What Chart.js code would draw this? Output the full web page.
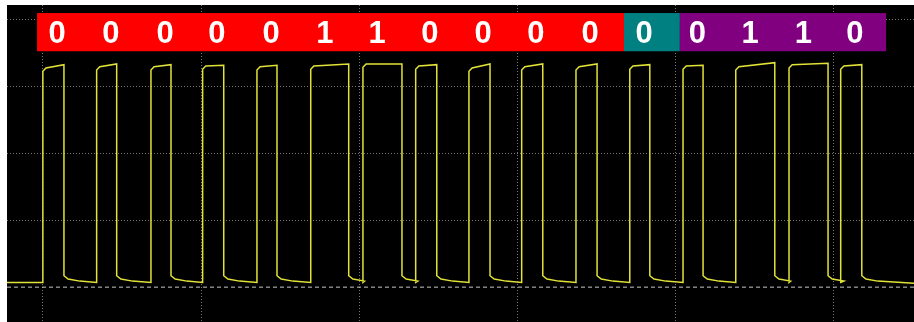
<!DOCTYPE html>
<html>
<head>
<meta charset="utf-8">
<script src="https://cdn.jsdelivr.net/npm/chart.js@4.4.0/dist/chart.umd.min.js"></script>
<style>
  html, body { margin: 0; padding: 0; background: #fff; }
  #wrap { position: absolute; left: 7px; top: 5px; width: 907px; height: 317px; background: #000; }
</style>
</head>
<body>
<div id="wrap"><canvas id="scope"></canvas></div>
<script>
// time in microseconds (30 us / div), voltage 1 V / div
const xTicks = [0, 30, 60, 90, 120, 150];
const yTicks = [0, 1, 2, 3, 4];
const xMin = -6.8, xMax = 165.2;
const yMin = -0.52, yMax = 4.21;

// pulse edges (us)
const riseTimes = [0, 10.2, 20.5, 30.3, 40.6, 50.8, 60.7, 70.7, 80.8, 90.8, 101.1, 111.3, 121.4, 131.4, 141.5, 151.3];
const fallTimes = [4.0, 14.0, 24.3, 34.3, 44.4, 58.0, 68.1, 74.7, 84.8, 94.8, 105.1, 115.1, 125.2, 138.8, 148.9, 155.3];
// high level right after the rise and just before the fall (V)
const topStart = [3.22, 3.24, 3.24, 3.25, 3.24, 3.25, 3.28, 3.25, 3.22, 3.24, 3.24, 3.25, 3.25, 3.24, 3.27, 3.25];
const topEnd = [3.32, 3.33, 3.32, 3.31, 3.31, 3.33, 3.33, 3.32, 3.33, 3.33, 3.33, 3.32, 3.31, 3.35, 3.34, 3.32];
const lowLevel = 0.07;

// decoded bits, one row per coloured field
const fieldBits = [[0, 0, 0, 0, 0, 1, 1, 0, 0, 0, 0], [0], [0, 1, 1, 0]];
const fieldColors = ['#ff0000', '#008080', '#800080'];
const fieldEdges = [-1.1, 110.2, 120.8, 159.9];
const fieldTop = 4.09, fieldBottom = 3.52;

// build the trace
const trace = [{x: xMin, y: lowLevel}];
for (let i = 0; i < riseTimes.length; i++) {
  trace.push({x: riseTimes[i], y: lowLevel});
  trace.push({x: riseTimes[i], y: topStart[i]});
  trace.push({x: riseTimes[i] + 0.6, y: topStart[i] + 0.05});
  trace.push({x: fallTimes[i], y: topEnd[i]});
  trace.push({x: fallTimes[i], y: 0.17});
  trace.push({x: fallTimes[i] + 0.8, y: 0.12});
  trace.push({x: fallTimes[i] + 3, y: 0.09});
}
trace.push({x: xMax, y: 0.06});

const bitFields = {
  id: 'bitFields',
  afterDatasetsDraw(chart) {
    const {ctx, scales: {x, y}} = chart;
    const top = y.getPixelForValue(fieldTop), bottom = y.getPixelForValue(fieldBottom);
    let bit = 0;
    ctx.save();
    ctx.font = 'bold 31px "Liberation Sans", Arial, sans-serif';
    ctx.textAlign = 'center';
    ctx.textBaseline = 'alphabetic';
    fieldBits.forEach((bits, f) => {
      const left = x.getPixelForValue(fieldEdges[f]);
      const right = x.getPixelForValue(fieldEdges[f + 1]);
      ctx.fillStyle = fieldColors[f];
      ctx.fillRect(left, top, right - left, bottom - top);
      ctx.fillStyle = '#fff';
      bits.forEach((b, i) => {
        const cx = x.getPixelForValue(riseTimes[bit + i] + 2.7);
        ctx.fillText(String(b), cx, (top + bottom) / 2 + 11);
      });
      bit += bits.length;
    });
    ctx.restore();
  }
};

new Chart(document.getElementById('scope'), {
  type: 'line',
  data: {
    datasets: [{
      data: trace,
      borderColor: '#e2e238',
      borderWidth: 1.5,
      pointRadius: 0,
      tension: 0
    }, {
      // ground reference
      data: [{x: xMin, y: 0}, {x: xMax, y: 0}],
      borderColor: '#c8c8c8',
      borderWidth: 1,
      borderDash: [4, 3],
      pointRadius: 0
    }]
  },
  options: {
    animation: false,
    responsive: true,
    maintainAspectRatio: false,
    layout: { padding: 0 },
    plugins: { legend: { display: false }, tooltip: { enabled: false } },
    scales: {
      x: {
        type: 'linear', min: xMin, max: xMax,
        afterBuildTicks: s => { s.ticks = xTicks.map(v => ({value: v})); },
        ticks: { display: false },
        grid: { color: '#777', drawTicks: false },
        border: { display: false, dash: [1, 2] }
      },
      y: {
        min: yMin, max: yMax,
        afterBuildTicks: s => { s.ticks = yTicks.map(v => ({value: v})); },
        ticks: { display: false },
        grid: { color: c => c.tick.value === 0 ? 'transparent' : '#777', drawTicks: false },
        border: { display: false, dash: [1, 2] }
      }
    }
  },
  plugins: [bitFields]
});
</script>
</body>
</html>
